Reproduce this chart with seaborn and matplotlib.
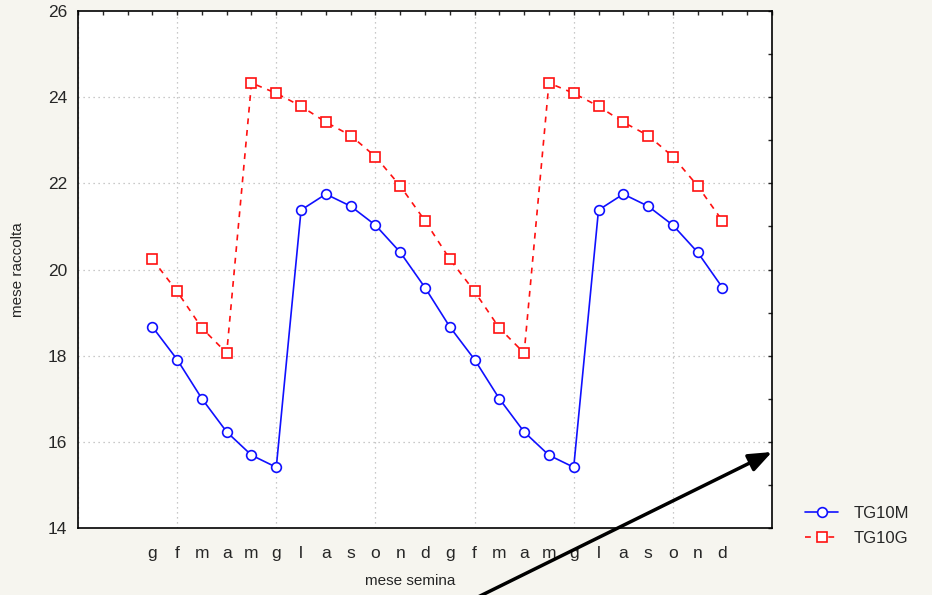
import numpy as np
import pandas as pd
import matplotlib
matplotlib.use("Agg")
import matplotlib.pyplot as plt
import seaborn as sns

# Data

months = ["g", "f", "m", "a", "m", "g", "l", "a", "s", "o", "n", "d",
          "g", "f", "m", "a", "m", "g", "l", "a", "s", "o", "n", "d"]

tg10m = [18.67, 17.91, 17.00, 16.23, 15.69, 15.41, 21.38, 21.75, 21.47, 21.03, 20.40, 19.58,
         18.67, 17.91, 17.00, 16.23, 15.69, 15.41, 21.38, 21.75, 21.47, 21.03, 20.40, 19.58]

tg10g = [20.24, 19.49, 18.64, 18.06, 24.33, 24.09, 23.79, 23.42, 23.11, 22.62, 21.94, 21.13,
         20.24, 19.49, 18.64, 18.06, 24.33, 24.09, 23.79, 23.42, 23.11, 22.62, 21.94, 21.13]

df = pd.DataFrame({
    "pos": np.arange(len(months)),
    "TG10M": tg10m,
    "TG10G": tg10g
})

# Style

sns.set_style("white")
plt.rcParams["font.family"] = ["Liberation Sans", "DejaVu Sans"]

bg = "#f6f5ef"

fig = plt.figure(figsize=(9.32, 5.95), dpi=100, facecolor=bg)
ax = fig.add_axes([78 / 932, 1 - 528 / 595, (772 - 78) / 932, (528 - 11) / 595])
ax.set_facecolor("white")

# Grid lines

for gx in range(-3, 26, 4):
    ax.axvline(gx, color="#b8b8b8", lw=0.9, ls=(0, (1, 3)), zorder=0)
for gy in range(16, 26, 2):
    ax.axhline(gy, color="#b8b8b8", lw=0.9, ls=(0, (1, 3)), zorder=0)

# Lines

sns.lineplot(
    data=df, x="pos", y="TG10M", ax=ax,
    color="#1010ff", lw=1.2, marker="o", markersize=7,
    markerfacecolor="white", markeredgecolor="#1010ff", markeredgewidth=1.2,
    label="TG10M", legend=False
)

sns.lineplot(
    data=df, x="pos", y="TG10G", ax=ax,
    color="#ff1010", lw=1.2, dashes=False, marker="s", markersize=7,
    markerfacecolor="white", markeredgecolor="#ff1010", markeredgewidth=1.2,
    label="TG10G", legend=False
)
ax.lines[-1].set_linestyle((0, (3.5, 3.5)))

# Axes

ax.set_xlim(-3, 25)
ax.set_ylim(14, 26)

xt = list(range(-3, 26))
xl = [months[i] if 0 <= i < len(months) else "" for i in xt]
ax.set_xticks(xt)
ax.set_xticklabels(xl, fontsize=12.5)
ax.set_yticks(range(14, 27, 2))
ax.set_yticks(range(15, 26, 2), minor=True)
ax.tick_params(axis="y", labelsize=12.5)
ax.tick_params(which="both", direction="in", length=3, width=1,
               top=True, right=True, pad=8)
ax.tick_params(axis="x", pad=13)

for s in ax.spines.values():
    s.set_color("black")
    s.set_linewidth(1.2)

ax.set_xlabel("")
ax.set_ylabel("")

fig.text(18 / 932, 1 - 270 / 595, "mese raccolta", rotation=90,
         ha="center", va="center", fontsize=11)
fig.text(410 / 932, 1 - 581 / 595, "mese semina",
         ha="center", va="center", fontsize=11)

# Legend

handles = ax.lines[-2:]
leg = fig.legend(
    handles, ["TG10M", "TG10G"],
    loc="center left", bbox_to_anchor=(790 / 932, 1 - 526 / 595),
    frameon=False, fontsize=12, handlelength=2.0, handletextpad=0.9,
    labelspacing=0.6
)

# Arrow

ax.annotate(
    "", xy=(772 / 932, 1 - 452 / 595), xycoords="figure fraction",
    xytext=(470 / 932, -0.01), textcoords="figure fraction",
    arrowprops=dict(arrowstyle="-|>,head_length=1.4,head_width=0.55",
                    color="black", lw=2.5, shrinkA=0, shrinkB=0),
    annotation_clip=False
)

plt.savefig("out.png", dpi=100, facecolor=bg)
